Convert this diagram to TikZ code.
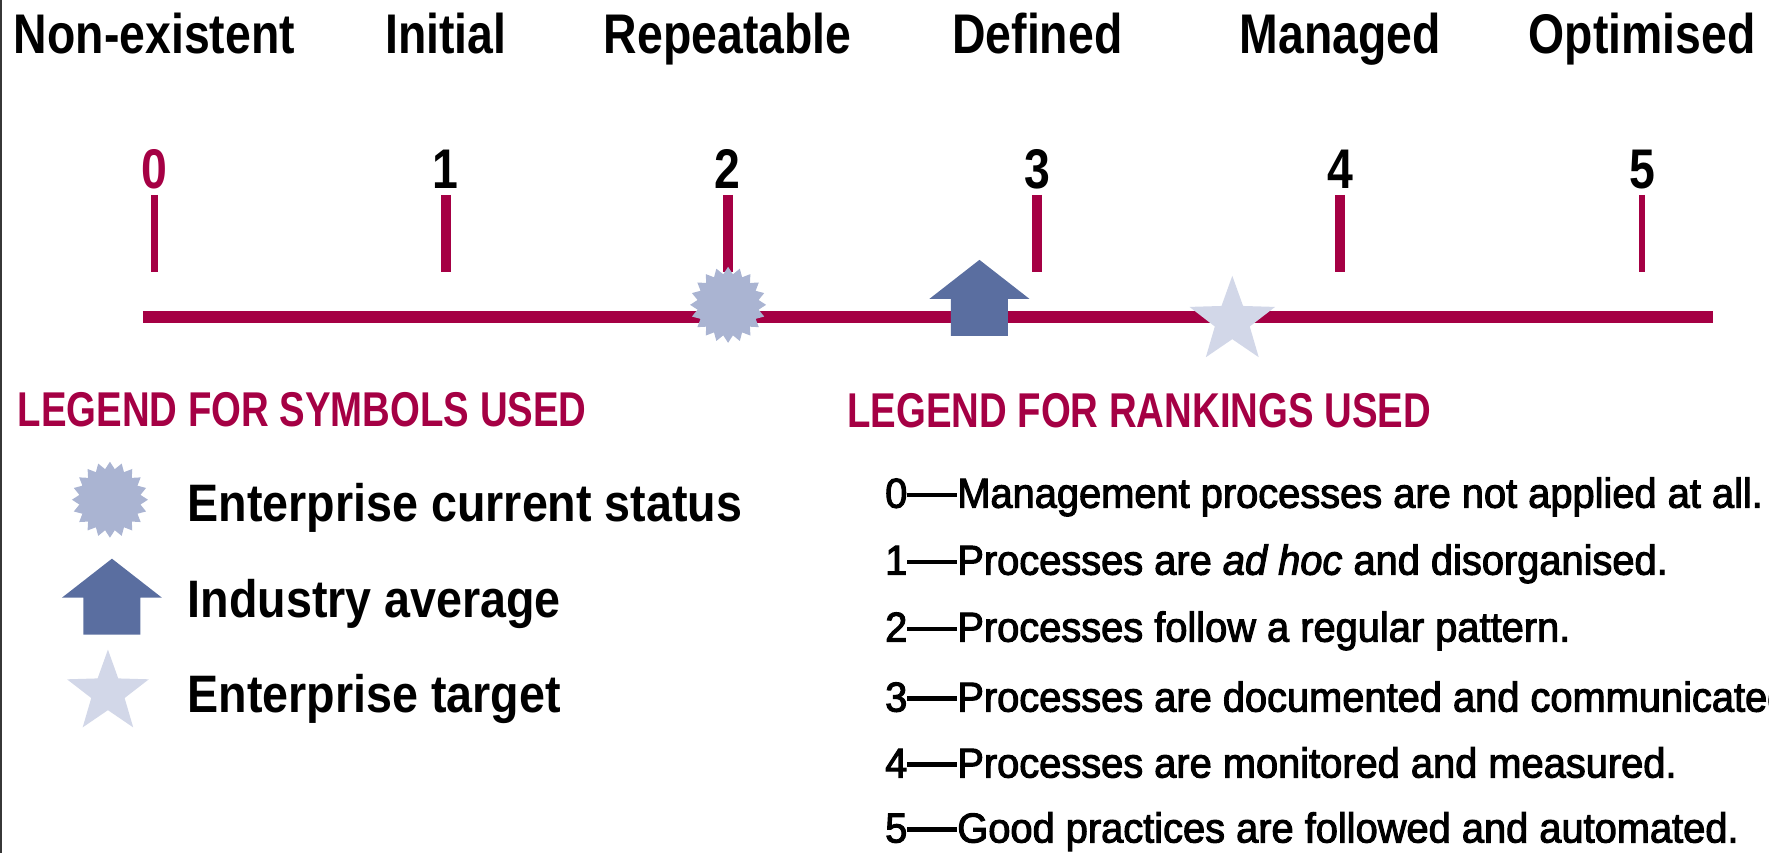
\documentclass[tikz,border=0pt]{standalone}
\usepackage{fontspec}
\setmainfont{Liberation Sans}
\newfontfamily\lvlfont{Liberation Sans}[FakeStretch=0.83]
\newfontfamily\legitemfont{Liberation Sans}[FakeStretch=0.885]
\newfontfamily\legheadfont{Liberation Sans}[FakeStretch=0.785]
\newfontfamily\rankfont{Liberation Sans}[FakeStretch=0.952,FakeBold=2.5]
\newcommand\rankdash{\rule[3pt]{0.5cm}{1.3pt}}
\usetikzlibrary{shapes.geometric}
\definecolor{rankred}{RGB}{165,0,68}
\definecolor{burstblue}{RGB}{170,180,210}
\definecolor{avgblue}{RGB}{90,110,160}
\definecolor{targetgrey}{RGB}{210,215,232}
\definecolor{framegrey}{RGB}{55,55,55}
\tikzset{
	lvllabel/.style={font=\lvlfont\bfseries\fontsize{15.9pt}{18pt}\selectfont,anchor=base,inner sep=0pt},
	ticknum/.style={font=\lvlfont\bfseries\fontsize{15.9pt}{18pt}\selectfont,anchor=base,inner sep=0pt},
	leghead/.style={font=\legheadfont\bfseries\fontsize{13.9pt}{16pt}\selectfont,text=rankred,anchor=base west,inner sep=0pt},
	legtext/.style={font=\legitemfont\bfseries\fontsize{15pt}{18pt}\selectfont,anchor=base west,inner sep=0pt},
	ranktext/.style={font=\rankfont\fontsize{11.9pt}{14pt}\selectfont,anchor=base west,inner sep=0pt},
	burst/.style={star,star points=20,star point ratio=1.23,minimum size=0.76cm,inner sep=0pt,fill=burstblue},
	target/.style={star,star points=5,star point ratio=2.45,minimum size=0.9cm,inner sep=0pt,fill=targetgrey}
}
\begin{document}
\begin{tikzpicture}
	\useasboundingbox (0,0) rectangle (17.69,8.53);
	\fill[framegrey] (0,0) rectangle (0.025,8.53);
	\begin{scope}[shift={(0cm,8.53cm)},x=0.01cm,y=-0.01cm]
	% scale: levels, numbers, ticks
	\foreach \x/\name/\w/\col [count=\i from 0] in {154.5/Non-existent/0.07cm/rankred, 446/Initial/0.1cm/black, 728/Repeatable/0.1cm/black, 1038/Defined/0.1cm/black, 1341/Managed/0.1cm/black, 1643/Optimised/0.06cm/black} {
		\node[lvllabel] (lvl\i) at (\x,54) {\name};
		\node[ticknum,text=\col] (num\i) at (\x,189) {\i};
		\draw[rankred,line width=\w] (\x,195) -- (\x,272);
	}
	\draw[rankred,line width=0.12cm] (143,317) -- (1714,317);
	% symbols on the scale
	\node[burst] (current) at (728.5,305) {};
	\node[target] (target) at (1233,321) {};
	\foreach \ax/\ay in {980/260, 112/559}
		\fill[avgblue] (\ax,\ay) -- ++(50,39) -- ++(-21.5,0) -- ++(0,37) -- ++(-57,0) -- ++(0,-37) -- ++(-21.5,0) -- cycle;
	% legend for symbols
	\node[leghead] (symhead) at (17,427) {LEGEND FOR SYMBOLS USED};
	\node[burst] (legburst) at (110,500) {};
	\node[target,minimum size=0.86cm] (legstar) at (108,693) {};
	\node[legtext] (legcur) at (187,522) {Enterprise current status};
	\node[legtext] (legavg) at (187,618) {Industry average};
	\node[legtext] (legtgt) at (187,713) {Enterprise target};
	% legend for rankings
	\node[leghead] (rankhead) at (847,428) {LEGEND FOR RANKINGS USED};
	\foreach \y/\txt [count=\i from 0] in {508/Management processes are not applied at all., 575/Processes are \emph{ad hoc} and disorganised., 642/Processes follow a regular pattern., 712/Processes are documented and communicated., 778/Processes are monitored and measured., 843/Good practices are followed and automated.}
		\node[ranktext] (rank\i) at (885,\y) {\i\rankdash\txt};
	\end{scope}
\end{tikzpicture}
\end{document}
